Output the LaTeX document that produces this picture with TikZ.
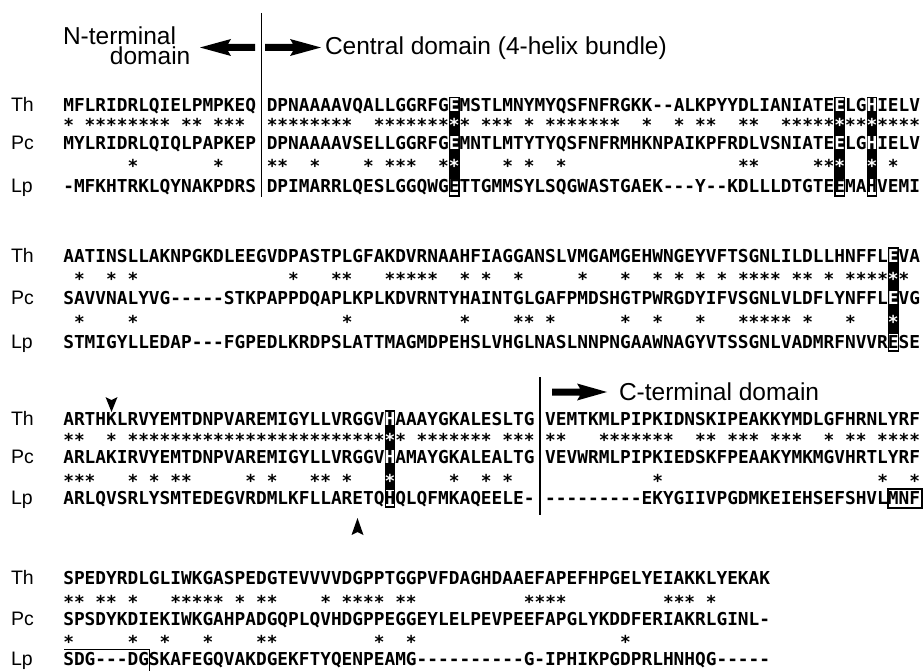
\documentclass[tikz,border=0pt]{standalone}
\usepackage{fontspec}
\setmainfont{Liberation Sans}
\setmonofont{DejaVu Sans Mono}
\newcommand\seqfont{\ttfamily\bfseries\fontsize{17.8}{20}\selectfont}
\newcommand\lblfont{\rmfamily\fontsize{19.5}{22}\selectfont}
\newcommand\hdrfont{\rmfamily\fontsize{24.5}{20}\selectfont}
\newcommand\cw{10.71pt}
\newcommand\sq[1]{\sqi#1\relax}
\def\sqi#1{\ifx#1\relax\else\sqchar#1\expandafter\sqi\fi}
\def\sqchar#1{\ifx#1.\hbox to\cw{}\else\ifx#1e\wc{E}\else\ifx#1h\wc{H}\else\ifx#1+\wc{*}\else\hbox to\cw{\hss#1\hss}\fi\fi\fi\fi}
\def\wc#1{\hbox to\cw{\hss\textcolor{white}{#1}\hss}}
\tikzset{
  seq/.style={anchor=base west,inner sep=0pt,outer sep=0pt,font=\seqfont},
  lbl/.style={anchor=base west,inner sep=0pt,outer sep=0pt,font=\lblfont},
  hdr/.style={anchor=base west,inner sep=0pt,outer sep=0pt,font=\hdrfont},
  domline/.style={line width=1.3pt},
  boxline/.style={line width=1.1pt}
}
\newcommand\setrows[5]{\def\yA{#1}\def\yB{#2}\def\yC{#3}\def\yD{#4}\def\yE{#5}}
\newcommand\seqblock[6]{%
  \node[lbl] (#1-lth) at (11,\yA) {Th};
  \node[lbl] (#1-lpc) at (11,\yC) {Pc};
  \node[lbl] (#1-llp) at (11,\yE) {Lp};
  \node[seq] (#1-th) at (63.3,\yA) {\sq{#2}};
  \node[seq] (#1-s1) at (63.3,\yB) {\sq{#3}};
  \node[seq] (#1-pc) at (63.3,\yC) {\sq{#4}};
  \node[seq] (#1-s2) at (63.3,\yD) {\sq{#5}};
  \node[seq] (#1-lp) at (63.3,\yE) {\sq{#6}};
}
\newcommand\hlfill[1]{\fill (63.3+#1*10.71,\yA-15) rectangle (63.3+#1*10.71+10.71,\yE-15);}
\newcommand\hlframe[1]{\draw[boxline] (63.3+#1*10.71+0.55,\yE-15) rectangle (63.3+#1*10.71+10.71-0.55,\yE+3);}
\begin{document}
\begin{tikzpicture}[x=1pt,y=-1pt]
\useasboundingbox[fill=white] (0,0) rectangle (924,671);
% headers
\node[hdr,align=left] (nterm) at (63,65) {N-terminal\\\hspace*{47pt}domain};
\node[hdr] (cent) at (325,55) {Central domain (4-helix bundle)};
\node[hdr] (cterm) at (619,400) {C-terminal domain};
\fill (200,47.5) -- (231,39) -- (228,44) -- (255,44) -- (255,51) -- (228,51) -- (231,56) -- cycle;
\fill (321,47.5) -- (290,39) -- (293,44) -- (265,44) -- (265,51) -- (293,51) -- (290,56) -- cycle;
\fill (607,392) -- (577,383.5) -- (580,388.5) -- (552,388.5) -- (552,395.5) -- (580,395.5) -- (577,400.5) -- cycle;
\coordinate (v1t) at (261.4,13); \coordinate (v1b) at (261.4,197);
\coordinate (v2t) at (539.9,377); \coordinate (v2b) at (539.9,515);
\draw[domline] (v1t) -- (v1b);
\draw[domline] (v2t) -- (v2b);
% block 1
\setrows{112}{132}{150}{172.5}{193}
\hlfill{36}\hlfill{72}\hlfill{75}
\seqblock{b1}%
{MFLRIDRLQIELPMPKEQ.DPNAAAAVQALLGGRFGeMSTLMNYMYQSFNFRGKK--ALKPYYDLIANIATEeLGhIELV}%
{*.********.**.***..********..*******+*.***.*.*******..*..*.**..**..*****+**+****}%
{MYLRIDRLQIQLPAPKEP.DPNAAAAVSELLGGRFGeMNTLMTYTYQSFNFRMHKNPAIKPFRDLVSNIATEeLGhIELV}%
{......*.......*....**..*....*.***..*+....*.*..*................**.....**+..+.*}%
{-MFKHTRKLQYNAKPDRS.DPIMARRLQESLGGQWGETTGMMSYLSQGWASTGAEK---Y--KDLLLDTGTEEMAHVEMI}
\hlframe{36}\hlframe{72}\hlframe{75}
% block 2
\setrows{262}{286}{305}{328.5}{348}
\hlfill{77}
\seqblock{b2}%
{AATINSLLAKNPGKDLEEGVDPASTPLGFAKDVRNAAHFIAGGANSLVMGAMGEHWNGEYVFTSGNLILDLLHNFFLeVA}%
{.*..*.*..............*...**...*****..*.*..*.....*...*..*.*.*.*.****.**.*.****+*}%
{SAVVNALYVG-----STKPAPPDQAPLKPLKDVRNTYHAINTGLGAFPMDSHGTPWRGDYIFVSGNLVLDFLYNFFLeVG}%
{.*....*...................*..........*....**.*......*..*...*...*****.*...*...+}%
{STMIGYLLEDAP---FGPEDLKRDPSLATTMAGMDPEHSLVHGLNASLNNPNGAAWNAGYVTSSGNLVADMRFNVVRESE}
\hlframe{77}
% block 3
\setrows{425}{446}{463}{487}{504}
\hlfill{30}
\seqblock{b3}%
{ARTHKLRVYEMTDNPVAREMIGYLLVRGGVhAAAYGKALESLTG.VEMTKMLPIPKIDNSKIPEAKKYMDLGFHRNLYRF}%
{**..*.************************+*.*******.***.**...*******..**.***.***..*.**.****}%
{ARLAKIRVYEMTDNPVAREMIGYLLVRGGVhAMAYGKALEALTG.VEVWRMLPIPKIEDSKFPEAAKYMKMGVHRTLYRF}%
{***...*.*.**.....*.*...**.*...+.....*..*.*.............*....................*..*}%
{ARLQVSRLYSMTEDEGVRDMLKFLLARETQHQLQFMKAQEELE-.---------EKYGIIVPGDMKEIEHSEFSHVLMNF}
\hlframe{30}
\draw[boxline] (888,489) rectangle (922,508);
\fill (105.5,397) -- (111.5,400) -- (117.5,397) -- (111.5,412) -- cycle;
\fill (351.5,535) -- (357.5,532) -- (363.5,535) -- (357.5,518) -- cycle;
% block 4
\setrows{584}{608}{625}{648}{665}
\seqblock{b4}%
{SPEDYRDLGLIWKGASPEDGTEVVVVDGPPTGGPVFDAGHDAAEFAPEFHPGELYEIAKKLYEKAK}%
{**.**.*...*****.*.**....*.****.**..........****.........***.*}%
{SPSDYKDIEKIWKGAHPADGQPLQVHDGPPEGGEYLELPEVPEEFAPGLYKDDFERIAKRLGINL-}%
{*.....*..*...*....**.........*..*...................*}%
{SDG---DGSKAFEGQVAKDGEKFTYQENPEAMG----------G-IPHIKPGDPRLHNHQG-----}
\draw[boxline] (64,649.5) -- (149.5,649.5) -- (149.5,672);
\end{tikzpicture}
\end{document}
